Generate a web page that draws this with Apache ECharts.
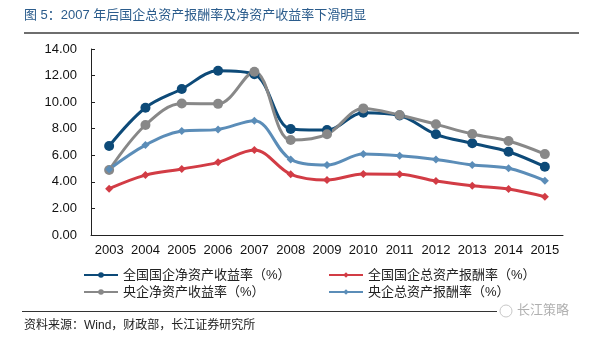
<!DOCTYPE html>
<html>
<head>
<meta charset="utf-8">
<script src="https://cdn.jsdelivr.net/npm/echarts@6/dist/echarts.min.js"></script>
<style>
html,body{margin:0;padding:0;background:#fff;}
#c{width:600px;height:339px;}
</style>
</head>
<body>
<div id="c"></div>
<script>
var years = ['2003','2004','2005','2006','2007','2008','2009','2010','2011','2012','2013','2014','2015'];
var nameSoeRoe = '全国国企净资产收益率（%）';
var nameSoeRoa = '全国国企总资产报酬率（%）';
var nameCentralRoe = '央企净资产收益率（%）';
var nameCentralRoa = '央企总资产报酬率（%）';
var soeRoe = [6.70, 9.58, 10.99, 12.36, 12.10, 7.98, 7.90, 9.20, 9.00, 7.58, 6.90, 6.27, 5.14];
var soeRoa = [3.49, 4.51, 4.97, 5.47, 6.40, 4.57, 4.14, 4.59, 4.57, 4.06, 3.71, 3.46, 2.88];
var centralRoe = [4.89, 8.28, 9.90, 9.87, 12.29, 7.15, 7.58, 9.53, 9.03, 8.33, 7.60, 7.07, 6.09];
var centralRoa = [4.95, 6.77, 7.82, 7.95, 8.60, 5.69, 5.27, 6.09, 5.97, 5.69, 5.27, 5.02, 4.09];
var yTicks = {min: 0, max: 14, interval: 2};

var FONT = '"Liberation Sans", Arial, "Noto Sans CJK SC", sans-serif';
var chart = echarts.init(document.getElementById('c'), null, {renderer: 'canvas'});

function mkSeries(name, data, color, symbol, size) {
  return {
    name: name, type: 'line', data: data, smooth: 0.35,
    symbol: symbol, symbolSize: size, showSymbol: true,
    lineStyle: {color: color, width: 3},
    itemStyle: {color: color},
    emphasis: {disabled: true}
  };
}
function mkLegend(name, left, top) {
  return {
    data: [name], left: left, top: top, padding: 0,
    itemWidth: 34, itemHeight: 7, itemGap: 0,
    textStyle: {fontFamily: FONT, fontSize: 13, color: '#222', lineHeight: 14},
    selectedMode: false
  };
}

chart.setOption({
  animation: false,
  backgroundColor: '#fff',
  grid: {left: 91, right: 37, top: 49, bottom: 104, containLabel: false},
  xAxis: {
    type: 'category', data: years, boundaryGap: true,
    axisLine: {lineStyle: {color: '#222', width: 1}},
    axisTick: {inside: true, length: 4, lineStyle: {color: '#222'}},
    axisLabel: {fontFamily: FONT, fontSize: 13, color: '#111', margin: 9, interval: 0}
  },
  yAxis: {
    type: 'value', min: yTicks.min, max: yTicks.max, interval: yTicks.interval,
    axisLine: {show: true, lineStyle: {color: '#222', width: 1}},
    axisTick: {show: true, inside: true, length: 4, lineStyle: {color: '#222'}},
    splitLine: {show: false},
    axisLabel: {fontFamily: FONT, fontSize: 13, color: '#111', margin: 14,
      formatter: function (v) { return v.toFixed(2); }}
  },
  legend: [
    mkLegend(nameSoeRoe, 83, 268),
    mkLegend(nameSoeRoa, 328, 268),
    mkLegend(nameCentralRoe, 83, 285),
    mkLegend(nameCentralRoa, 328, 285)
  ],
  series: [
    mkSeries(nameSoeRoe, soeRoe, '#0d4a78', 'circle', 10),
    mkSeries(nameSoeRoa, soeRoa, '#d23c45', 'diamond', 8),
    mkSeries(nameCentralRoe, centralRoe, '#888888', 'circle', 10),
    mkSeries(nameCentralRoa, centralRoa, '#5b8db8', 'diamond', 8)
  ],
  graphic: [
    {type: 'text', left: 24, top: 9, style: {text: '图 5：2007 年后国企总资产报酬率及净资产收益率下滑明显',
      font: '13px ' + FONT, fill: '#2b5c8c'}},
    {type: 'rect', shape: {x: 24, y: 32, width: 555, height: 2}, style: {fill: '#6e6e6e'}},
    {type: 'rect', shape: {x: 22, y: 311, width: 475, height: 1}, style: {fill: '#333'}},
    {type: 'circle', shape: {cx: 506, cy: 311, r: 6}, style: {fill: 'none', stroke: '#c8c8c8', lineWidth: 1}},
    {type: 'text', left: 517, top: 304, style: {text: '长江策略', font: '13px ' + FONT, fill: '#b0b0b0'}},
    {type: 'text', left: 24, top: 320, style: {text: '资料来源：Wind，财政部，长江证券研究所',
      font: '12px ' + FONT, fill: '#222'}}
  ]
});
</script>
</body>
</html>
